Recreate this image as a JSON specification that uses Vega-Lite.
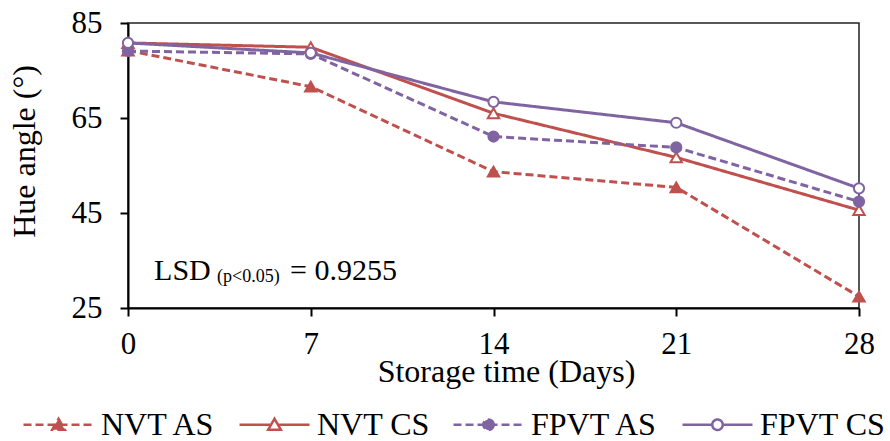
{
  "$schema": "https://vega.github.io/schema/vega-lite/v6.json",
  "width": 731,
  "height": 285,
  "autosize": "none",
  "padding": {"left": 128, "top": 23, "right": 31, "bottom": 133},
  "background": "white",
  "config": {
    "font": "Liberation Serif",
    "view": {"stroke": "#222222", "strokeWidth": 1.5},
    "axis": {
      "grid": false,
      "domainColor": "black",
      "domainWidth": 2,
      "tickColor": "black",
      "tickWidth": 2,
      "tickSize": 8,
      "labelColor": "black",
      "labelFont": "Liberation Serif",
      "labelFontSize": 31,
      "titleColor": "black",
      "titleFont": "Liberation Serif",
      "titleFontSize": 32,
      "titleFontWeight": "normal"
    }
  },
  "data": {
    "values": [
      {"day": 0, "series": "NVT AS", "hue": 79.2},
      {"day": 7, "series": "NVT AS", "hue": 71.6},
      {"day": 14, "series": "NVT AS", "hue": 53.7},
      {"day": 21, "series": "NVT AS", "hue": 50.4},
      {"day": 28, "series": "NVT AS", "hue": 27.4},
      {"day": 0, "series": "NVT CS", "hue": 80.8},
      {"day": 7, "series": "NVT CS", "hue": 79.9},
      {"day": 14, "series": "NVT CS", "hue": 66.0},
      {"day": 21, "series": "NVT CS", "hue": 56.7},
      {"day": 28, "series": "NVT CS", "hue": 45.6},
      {"day": 0, "series": "FPVT AS", "hue": 79.1},
      {"day": 7, "series": "FPVT AS", "hue": 78.5},
      {"day": 14, "series": "FPVT AS", "hue": 61.1},
      {"day": 21, "series": "FPVT AS", "hue": 58.8},
      {"day": 28, "series": "FPVT AS", "hue": 47.4},
      {"day": 0, "series": "FPVT CS", "hue": 80.8},
      {"day": 7, "series": "FPVT CS", "hue": 78.7},
      {"day": 14, "series": "FPVT CS", "hue": 68.4},
      {"day": 21, "series": "FPVT CS", "hue": 64.0},
      {"day": 28, "series": "FPVT CS", "hue": 50.2}
    ]
  },
  "encoding": {
    "x": {
      "field": "day",
      "type": "quantitative",
      "scale": {"domain": [0, 28], "nice": false, "zero": false},
      "axis": {"values": [0, 7, 14, 21, 28], "title": "Storage time (Days)", "labelPadding": 13, "titlePadding": -3, "titleX": 378, "titleAlign": "center", "labelFlush": false}
    },
    "y": {
      "field": "hue",
      "type": "quantitative",
      "scale": {"domain": [25, 85], "nice": false, "zero": false},
      "axis": {"values": [25, 45, 65, 85], "title": "Hue angle (°)", "labelPadding": 18, "titlePadding": 30, "titleY": 128, "labelFlush": false}
    }
  },
  "layer": [
    {
      "mark": {"type": "line", "strokeWidth": 3},
      "encoding": {
        "color": {
          "field": "series",
          "type": "nominal",
          "scale": {"domain": ["NVT AS", "NVT CS", "FPVT AS", "FPVT CS"], "range": ["#C0504D", "#C0504D", "#8064A2", "#8064A2"]},
          "legend": {
            "title": null,
            "orient": "none",
            "direction": "horizontal",
            "legendX": -106,
            "legendY": 365,
            "symbolSize": 4900,
            "symbolStrokeWidth": 2.5,
            "labelFont": "Liberation Serif",
            "labelFontSize": 32,
            "labelColor": "black",
            "labelOffset": 6,
            "labelLimit": 300,
            "columnPadding": 18,
            "encode": {
              "symbols": {
                "update": {
                  "shape": {"signal": "datum.value == 'NVT AS' ? 'M-1,0L1,0M0,-0.17L0.18,0.14L-0.18,0.14Z' : datum.value == 'NVT CS' ? 'M-1,0L-0.1,0M0.1,0L1,0M0,-0.17L0.18,0.14L-0.18,0.14Z' : datum.value == 'FPVT AS' ? 'M-1,0L1,0M0.15,0A0.15,0.15 0 1,1 -0.15,0A0.15,0.15 0 1,1 0.15,0Z' : 'M-1,0L-0.15,0M0.15,0L1,0M0.15,0A0.15,0.15 0 1,1 -0.15,0A0.15,0.15 0 1,1 0.15,0Z'"},
                  "stroke": {"signal": "scale('color', datum.value)"},
                  "fill": {"signal": "(datum.value == 'NVT AS' || datum.value == 'FPVT AS') ? scale('color', datum.value) : 'white'"},
                  "strokeDash": {"signal": "(datum.value == 'NVT AS' || datum.value == 'FPVT AS') ? [7, 4] : []"},
                  "opacity": {"value": 1}
                }
              }
            }
          }
        },
        "strokeDash": {
          "field": "series",
          "type": "nominal",
          "scale": {"domain": ["NVT AS", "NVT CS", "FPVT AS", "FPVT CS"], "range": [[8, 4], [1, 0], [8, 4], [1, 0]]},
          "legend": null
        }
      }
    },
    {
      "transform": [{"filter": "datum.series == 'NVT AS' || datum.series == 'NVT CS'"}],
      "mark": {"type": "point", "shape": "triangle-up", "strokeWidth": 2, "opacity": 1, "size": 130, "stroke": "#C0504D"},
      "encoding": {
        "fill": {"condition": {"test": "datum.series == 'NVT AS'", "value": "#C0504D"}, "value": "#FFFFFF"}
      }
    },
    {
      "transform": [{"filter": "datum.series == 'FPVT AS' || datum.series == 'FPVT CS'"}],
      "mark": {"type": "point", "shape": "circle", "strokeWidth": 2, "opacity": 1, "size": 105, "stroke": "#8064A2"},
      "encoding": {
        "fill": {"condition": {"test": "datum.series == 'FPVT AS'", "value": "#8064A2"}, "value": "#FFFFFF"}
      }
    },
    {
      "transform": [{"filter": "datum.day == 0 && datum.series == 'NVT AS'"}],
      "mark": {"type": "text", "align": "left", "baseline": "alphabetic", "fontSize": 30, "font": "Liberation Serif", "color": "black"},
      "encoding": {
        "x": {"datum": 1, "type": "quantitative"},
        "y": {"datum": 31, "type": "quantitative"},
        "text": {"value": "LSD"}
      }
    },
    {
      "transform": [{"filter": "datum.day == 0 && datum.series == 'NVT AS'"}],
      "mark": {"type": "text", "align": "left", "baseline": "alphabetic", "fontSize": 18, "font": "Liberation Serif", "color": "black", "dx": 63, "dy": 2},
      "encoding": {
        "x": {"datum": 1, "type": "quantitative"},
        "y": {"datum": 31, "type": "quantitative"},
        "text": {"value": "(p<0.05)"}
      }
    },
    {
      "transform": [{"filter": "datum.day == 0 && datum.series == 'NVT AS'"}],
      "mark": {"type": "text", "align": "left", "baseline": "alphabetic", "fontSize": 30, "font": "Liberation Serif", "color": "black", "dx": 136},
      "encoding": {
        "x": {"datum": 1, "type": "quantitative"},
        "y": {"datum": 31, "type": "quantitative"},
        "text": {"value": "= 0.9255"}
      }
    }
  ]
}
